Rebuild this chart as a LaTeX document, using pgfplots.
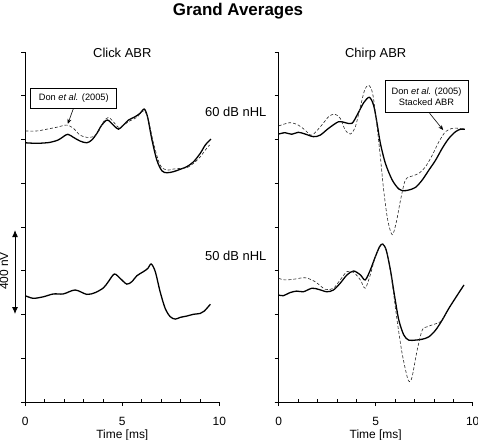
\documentclass[border=0pt]{standalone}
\usepackage{pgfplots}
\pgfplotsset{compat=1.18}
\usepackage{fontspec}
\setmainfont{Liberation Sans}
\usetikzlibrary{arrows.meta}

\pgfplotsset{
  abrax/.style={
    scale only axis, width=194bp, height=350bp,
    xmin=0, xmax=10, ymin=0, ymax=1600,
    axis x line*=bottom, axis y line*=left,
    xtick={0,5,10}, ytick={0,200,...,1600}, yticklabels={},
    minor x tick num=4, minor y tick num=0,
    tick align=outside, major tick length=4bp, minor tick length=3bp,
    minor x tick style={yshift=3bp},
    tick style={black, line width=0.6pt},
    axis line style={black, line width=0.8pt},
    extra y ticks={0}, extra y tick labels={},
    extra y tick style={grid=major, major grid style={black, line width=0.8pt}},
    /pgf/number format/assume math mode=true,
    xticklabel style={font=\fontsize{12}{14}\selectfont, anchor=base, yshift=-19bp},
    xlabel={Time [ms]},
    xlabel style={font=\fontsize{12}{14}\selectfont, at={(axis description cs:0.5,0)}, anchor=base, yshift=-36.5bp},
    clip=false,
  },
}
\tikzset{
  solidc/.style={black, line width=1.3pt, smooth, tension=0.5},
  dashc/.style={black!85, line width=0.6pt, dash pattern=on 3pt off 2pt, smooth, tension=0.5},
  lbl/.style={font=\fontsize{13}{15}\selectfont},
  boxf/.style={font=\fontsize{9.3}{11.7}\selectfont},
}

\begin{document}
\begin{tikzpicture}
\useasboundingbox (0,0) rectangle (478bp,-440bp);
\node[font=\bfseries\fontsize{17}{20}\selectfont, anchor=base] at (238bp,-15.5bp) {Grand Averages};

\begin{axis}[abrax, at={(25.3bp,-402bp)}, anchor=south west]
% 60 dB solid
\addplot[solidc] coordinates {(0,1185)(0.41,1183)(0.76,1183)(1.28,1187)(1.70,1198)(1.96,1213)(2.19,1224)(2.48,1210)(2.82,1193)(3.17,1185)(3.43,1198)(3.69,1228)(3.94,1266)(4.23,1289)(4.54,1266)(4.80,1247)(5.06,1266)(5.32,1289)(5.66,1304)(5.92,1320)(6.13,1339)(6.30,1304)(6.53,1198)(6.78,1106)(7.04,1057)(7.30,1048)(7.64,1053)(7.99,1064)(8.33,1076)(8.67,1098)(9.02,1137)(9.28,1175)(9.57,1202)};
% 60 dB dashed (Don et al.)
\addplot[dashc] coordinates {(0,1239)(0.59,1239)(1.10,1247)(1.62,1256)(2.14,1266)(2.48,1251)(2.82,1220)(3.17,1210)(3.51,1213)(3.77,1236)(4.03,1281)(4.28,1301)(4.54,1281)(4.80,1256)(5.06,1266)(5.41,1286)(5.75,1301)(6.01,1327)(6.18,1327)(6.35,1289)(6.61,1183)(6.95,1083)(7.30,1060)(7.64,1065)(7.99,1068)(8.33,1071)(8.67,1091)(9.02,1121)(9.28,1152)(9.50,1175)};
% 50 dB solid
\addplot[solidc] coordinates {(0,486)(0.41,474)(0.93,481)(1.45,494)(1.96,494)(2.57,512)(3.17,492)(3.60,500)(4.03,522)(4.28,550)(4.59,585)(4.89,565)(5.23,539)(5.49,550)(5.75,577)(6.09,596)(6.32,611)(6.49,631)(6.70,596)(6.95,504)(7.21,428)(7.47,390)(7.73,379)(7.99,387)(8.33,393)(8.67,401)(9.02,405)(9.23,416)(9.54,447)};
\node[lbl, anchor=base] at (axis cs:5,1577) {Click ABR};
\node[boxf, draw, line width=0.8pt, fill=white, minimum width=86bp, minimum height=20bp, inner sep=0pt] at (axis cs:2.50,1388) {Don \textit{et al.} (2005)};
\draw[-{Stealth[length=5bp,width=4bp]}, line width=0.6pt] (axis cs:2.48,1342) -- (axis cs:2.19,1271);
\draw[{Latex[length=7bp,width=6bp]}-{Latex[length=7bp,width=6bp]}, line width=0.9pt] (axis cs:-0.53,402) -- (axis cs:-0.53,786);
\node[font=\fontsize{12}{14}\selectfont, rotate=90] at (axis cs:-1.10,599) {400 nV};
\end{axis}

\begin{axis}[abrax, at={(278.7bp,-402bp)}, anchor=south west]
% 60 dB solid
\addplot[solidc] coordinates {(0,1225)(0.33,1231)(0.67,1224)(1.01,1233)(1.36,1225)(1.79,1213)(2.14,1220)(2.57,1251)(3.08,1281)(3.43,1277)(3.78,1274)(4.09,1320)(4.38,1368)(4.67,1393)(4.89,1357)(5.07,1274)(5.24,1183)(5.50,1091)(5.85,1015)(6.19,974)(6.45,966)(6.70,969)(7.05,981)(7.40,1015)(7.74,1060)(8.09,1106)(8.43,1160)(8.77,1205)(9.12,1236)(9.38,1247)(9.60,1247)};
% 60 dB dashed (stacked ABR)
\addplot[dashc] coordinates {(0,1262)(0.58,1277)(1.01,1266)(1.36,1243)(1.71,1220)(2.22,1266)(2.57,1304)(2.88,1316)(3.17,1297)(3.43,1243)(3.69,1225)(3.95,1258)(4.21,1350)(4.43,1426)(4.64,1448)(4.84,1411)(5.03,1289)(5.24,1121)(5.41,969)(5.62,832)(5.85,765)(6.05,817)(6.28,923)(6.53,1015)(6.88,1033)(7.22,1045)(7.57,1076)(7.92,1129)(8.26,1190)(8.60,1236)(8.95,1251)(9.29,1251)(9.55,1247)};
% 50 dB solid
\addplot[solidc] coordinates {(0,489)(0.24,486)(0.58,500)(0.93,507)(1.27,504)(1.71,520)(2.05,515)(2.48,504)(2.82,512)(3.17,543)(3.52,581)(3.86,599)(4.21,581)(4.46,558)(4.72,603)(4.98,664)(5.20,710)(5.36,722)(5.54,695)(5.76,603)(5.98,481)(6.19,375)(6.45,306)(6.70,283)(7.05,283)(7.40,287)(7.74,298)(8.09,329)(8.43,375)(8.77,428)(9.21,489)(9.55,535)};
% 50 dB dashed
\addplot[dashc] coordinates {(0,565)(0.33,558)(0.76,561)(1.36,568)(1.88,550)(2.40,515)(2.82,520)(3.17,558)(3.52,596)(3.86,593)(4.21,558)(4.46,520)(4.72,581)(4.98,664)(5.24,713)(5.36,721)(5.59,680)(5.85,543)(6.10,375)(6.36,223)(6.62,116)(6.74,93)(6.88,116)(7.14,238)(7.40,329)(7.66,344)(8.00,355)(8.34,367)(8.60,400)};
\node[lbl, anchor=base] at (axis cs:5,1577) {Chirp ABR};
\node[lbl, anchor=base east] at (axis cs:-0.45,1304) {60 dB nHL};
\node[lbl, anchor=base east] at (axis cs:-0.45,645) {50 dB nHL};
\node[boxf, draw, line width=0.8pt, fill=white, align=center, minimum width=83bp, minimum height=31.6bp, inner sep=0pt] at (axis cs:7.62,1396) {Don \textit{et al.} (2005)\\Stacked ABR};
\draw[-{Stealth[length=5bp,width=4bp]}, line width=0.6pt] (axis cs:7.78,1320) -- (axis cs:8.48,1243);
\end{axis}
\end{tikzpicture}
\end{document}
